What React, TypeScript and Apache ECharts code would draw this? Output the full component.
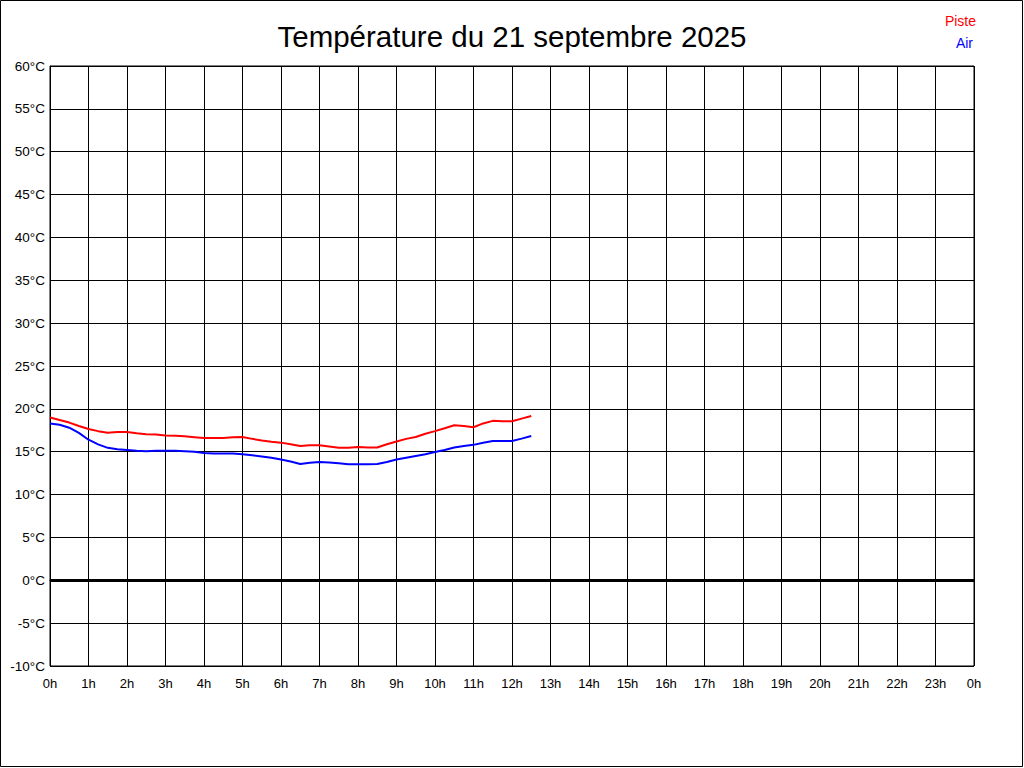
import React, { useEffect, useRef } from "react";
import * as echarts from "echarts";

const TITLE = "Température du 21 septembre 2025";
const SERIES_NAMES = ["Piste", "Air"];
const SERIES_COLORS = ["#ff0000", "#0000ff"];

// hours since midnight (15-minute readings)
const hours = [
  0, 0.25, 0.5, 0.75, 1, 1.25, 1.5, 1.75, 2, 2.25, 2.5, 2.75, 3, 3.25, 3.5, 3.75,
  4, 4.25, 4.5, 4.75, 5, 5.25, 5.5, 5.75, 6, 6.25, 6.5, 6.75, 7, 7.25, 7.5, 7.75,
  8, 8.25, 8.5, 8.75, 9, 9.25, 9.5, 9.75, 10, 10.25, 10.5, 10.75, 11, 11.25, 11.5,
  11.75, 12, 12.25, 12.5,
];

const piste = [
  19.0, 18.7, 18.4, 18.0, 17.65, 17.4, 17.2, 17.3, 17.3, 17.15, 17.05, 17.0, 16.9,
  16.85, 16.8, 16.7, 16.6, 16.6, 16.6, 16.7, 16.72, 16.5, 16.3, 16.15, 16.06, 15.87,
  15.67, 15.75, 15.75, 15.6, 15.45, 15.45, 15.56, 15.5, 15.5, 15.87, 16.2, 16.5,
  16.72, 17.1, 17.4, 17.73, 18.08, 18.0, 17.85, 18.3, 18.6, 18.55, 18.55, 18.86, 19.17,
];

const air = [
  18.3, 18.15, 17.8, 17.2, 16.4, 15.85, 15.45, 15.3, 15.2, 15.1, 15.05, 15.1, 15.1,
  15.1, 15.05, 15.0, 14.85, 14.8, 14.8, 14.8, 14.7, 14.6, 14.45, 14.3, 14.1, 13.85,
  13.57, 13.7, 13.8, 13.75, 13.65, 13.55, 13.53, 13.55, 13.57, 13.8, 14.1, 14.3,
  14.5, 14.7, 14.97, 15.2, 15.5, 15.67, 15.8, 16.05, 16.25, 16.25, 16.25, 16.53, 16.83,
];

const X_MIN = 0;
const X_MAX = 24;
const Y_MIN = -10;
const Y_MAX = 60;
const Y_STEP = 5;

const FONT = "'Liberation Sans', Arial, sans-serif";

export default function App() {
  const ref = useRef<HTMLDivElement>(null);

  useEffect(() => {
    document.body.style.margin = "0";
    if (!ref.current) return;
    const chart = echarts.init(ref.current, undefined, { renderer: "svg" });
    const seriesData = [piste, air];

    chart.setOption({
      animation: false,
      backgroundColor: "#ffffff",
      textStyle: { fontFamily: FONT },
      title: {
        text: TITLE,
        left: "center",
        top: 16,
        textStyle: {
          fontFamily: FONT,
          fontSize: 29.5,
          fontWeight: "normal",
          color: "#000",
        },
      },
      graphic: [
        {
          type: "rect",
          silent: true,
          shape: { x: 0.5, y: 0.5, width: 1022, height: 766 },
          style: { fill: "none", stroke: "#000", lineWidth: 1 },
        },
        {
          type: "text",
          right: 48,
          top: 14,
          style: {
            text: SERIES_NAMES[0],
            fill: SERIES_COLORS[0],
            font: `14px ${FONT}`,
          },
        },
        {
          type: "text",
          right: 51,
          top: 36,
          style: {
            text: SERIES_NAMES[1],
            fill: SERIES_COLORS[1],
            font: `14px ${FONT}`,
          },
        },
      ],
      grid: {
        left: 50,
        right: 50,
        top: 66,
        bottom: 102,
        show: true,
        borderColor: "#000",
        borderWidth: 1,
        backgroundColor: "transparent",
      },
      xAxis: {
        type: "value",
        min: X_MIN,
        max: X_MAX,
        interval: 1,
        axisLine: { show: true, lineStyle: { color: "#000", width: 1 } },
        axisTick: { show: false },
        splitLine: { show: true, lineStyle: { color: "#000", width: 1 } },
        axisLabel: {
          color: "#000",
          fontSize: 13,
          fontFamily: FONT,
          margin: 11,
          formatter: (v: number) => `${v % 24}h`,
        },
      },
      yAxis: {
        type: "value",
        min: Y_MIN,
        max: Y_MAX,
        interval: Y_STEP,
        axisLine: { show: true, lineStyle: { color: "#000", width: 1 } },
        axisTick: { show: false },
        splitLine: { show: true, lineStyle: { color: "#000", width: 1 } },
        axisLabel: {
          color: "#000",
          fontSize: 13.5,
          fontFamily: FONT,
          margin: 5,
          formatter: (v: number) => `${v}°C`,
        },
      },
      series: SERIES_NAMES.map((name, i) => ({
        name,
        type: "line",
        showSymbol: false,
        symbol: "none",
        lineStyle: { color: SERIES_COLORS[i], width: 2 },
        itemStyle: { color: SERIES_COLORS[i] },
        data: hours.map((h, k) => [h, seriesData[i][k]]),
        z: 3,
        markLine:
          i === 0
            ? {
                silent: true,
                symbol: "none",
                label: { show: false },
                lineStyle: { color: "#000", width: 3, type: "solid" },
                data: [{ yAxis: 0 }],
                z: 4,
              }
            : undefined,
      })),
    });

    return () => chart.dispose();
  }, []);

  return <div ref={ref} style={{ width: 1024, height: 768 }} />;
}
